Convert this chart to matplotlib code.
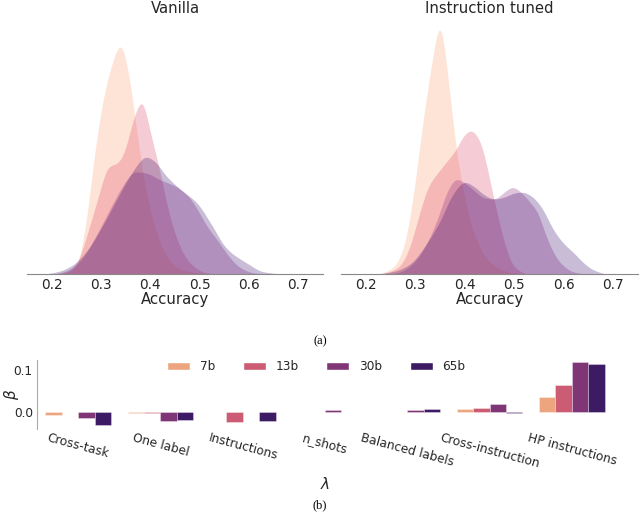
import numpy as np
import matplotlib
matplotlib.use("Agg")
import matplotlib.pyplot as plt
import matplotlib.colors as mcolors
from matplotlib.patches import Patch
import colorsys

# ---------------- data ----------------
sizes = ["7b", "13b", "30b", "65b"]

# density curves (accuracy, density)
van_7b_x = [0.20, 0.23, 0.25, 0.27, 0.285, 0.30, 0.32, 0.34, 0.355, 0.37, 0.39, 0.41, 0.43, 0.46, 0.50, 0.55]
van_7b_y = [0, 0.04, 0.28, 2.08, 4.44, 6.44, 8.16, 9.08, 8.04, 6.0, 3.4, 1.8, 0.8, 0.2, 0.04, 0]
van_13b_x = [0.20, 0.23, 0.25, 0.275, 0.295, 0.315, 0.335, 0.35, 0.365, 0.383, 0.40, 0.42, 0.435, 0.455, 0.48, 0.515, 0.55]
van_13b_y = [0, 0.08, 0.4, 1.76, 3.08, 4.24, 4.4, 4.96, 6.08, 6.84, 5.6, 4.0, 2.64, 1.32, 0.44, 0.04, 0]
van_30b_x = [0.20, 0.23, 0.26, 0.29, 0.32, 0.345, 0.368, 0.39, 0.42, 0.45, 0.475, 0.495, 0.515, 0.535, 0.56, 0.58, 0.61, 0.64]
van_30b_y = [0, 0.12, 0.56, 1.52, 2.64, 3.52, 4.04, 4.0, 3.72, 3.48, 3.12, 2.56, 1.88, 1.36, 0.68, 0.28, 0.04, 0]
van_65b_x = [0.18, 0.21, 0.24, 0.27, 0.30, 0.33, 0.36, 0.38, 0.39, 0.41, 0.43, 0.46, 0.495, 0.52, 0.555, 0.595, 0.63, 0.68]
van_65b_y = [0, 0.08, 0.32, 0.88, 1.8, 2.88, 3.92, 4.48, 4.64, 4.44, 3.92, 3.36, 2.8, 2.08, 1.0, 0.44, 0.08, 0]

ins_7b_x = [0.22, 0.257, 0.277, 0.293, 0.313, 0.333, 0.35, 0.367, 0.38, 0.40, 0.42, 0.45, 0.49, 0.53]
ins_7b_y = [0, 0.28, 1.08, 2.68, 5.64, 8.28, 9.88, 7.64, 5.36, 3.0, 1.52, 0.48, 0.08, 0]
ins_13b_x = [0.22, 0.245, 0.267, 0.287, 0.307, 0.327, 0.347, 0.365, 0.38, 0.40, 0.413, 0.427, 0.44, 0.453, 0.467, 0.48, 0.50, 0.53]
ins_13b_y = [0, 0.08, 0.28, 0.96, 2.28, 3.48, 4.04, 4.48, 4.84, 5.52, 5.68, 5.4, 4.68, 3.48, 2.28, 1.24, 0.28, 0]
ins_30b_x = [0.24, 0.27, 0.29, 0.313, 0.33, 0.347, 0.365, 0.383, 0.40, 0.42, 0.44, 0.46, 0.48, 0.497, 0.515, 0.53, 0.547, 0.567, 0.593, 0.62, 0.65]
ins_30b_y = [0, 0.08, 0.32, 0.84, 1.48, 2.28, 3.28, 3.76, 3.6, 3.28, 3.0, 2.96, 3.24, 3.44, 3.2, 2.88, 2.44, 1.36, 0.44, 0.08, 0]
ins_65b_x = [0.22, 0.26, 0.29, 0.32, 0.35, 0.375, 0.40, 0.42, 0.44, 0.46, 0.48, 0.50, 0.517, 0.535, 0.555, 0.58, 0.60, 0.62, 0.64, 0.66, 0.69]
ins_65b_y = [0, 0.12, 0.4, 1.12, 2.08, 3.12, 3.64, 3.44, 3.12, 2.96, 3.04, 3.2, 3.24, 3.08, 2.64, 1.72, 1.2, 0.84, 0.44, 0.16, 0]

panels = {
    "Vanilla": [(van_7b_x, van_7b_y), (van_13b_x, van_13b_y), (van_30b_x, van_30b_y), (van_65b_x, van_65b_y)],
    "Instruction tuned": [(ins_7b_x, ins_7b_y), (ins_13b_x, ins_13b_y), (ins_30b_x, ins_30b_y), (ins_65b_x, ins_65b_y)],
}
acc_ticks = [0.2, 0.3, 0.4, 0.5, 0.6, 0.7]

categories = ["Cross-task", "One label", "Instructions", "n_shots",
              "Balanced labels", "Cross-instruction", "HP instructions"]
beta_7b = [-0.008, -0.003, 0.0, 0.0, 0.0, 0.007, 0.035]
beta_13b = [0.0, -0.004, -0.026, -0.002, 0.0, 0.009, 0.065]
beta_30b = [-0.015, -0.022, -0.002, 0.004, 0.004, 0.018, 0.118]
beta_65b = [-0.032, -0.020, -0.022, 0.0, 0.005, -0.004, 0.114]
betas = [beta_7b, beta_13b, beta_30b, beta_65b]

# ---------------- helpers ----------------
def pchip(x, y, xs):
    x = np.asarray(x, float); y = np.asarray(y, float)
    h = np.diff(x); d = np.diff(y) / h
    m = np.zeros_like(y)
    for k in range(1, len(x) - 1):
        if d[k - 1] * d[k] > 0:
            w1 = 2 * h[k] + h[k - 1]; w2 = h[k] + 2 * h[k - 1]
            m[k] = (w1 + w2) / (w1 / d[k - 1] + w2 / d[k])
    out = np.zeros_like(xs)
    for i, xv in enumerate(xs):
        if xv <= x[0] or xv >= x[-1]:
            out[i] = 0.0
            continue
        k = np.searchsorted(x, xv) - 1
        t = (xv - x[k]) / h[k]
        h00 = 2 * t**3 - 3 * t**2 + 1; h10 = t**3 - 2 * t**2 + t
        h01 = -2 * t**3 + 3 * t**2; h11 = t**3 - t**2
        out[i] = h00 * y[k] + h10 * h[k] * m[k] + h01 * y[k + 1] + h11 * h[k] * m[k + 1]
    return np.clip(out, 0, None)

def smooth(xs, ys, sigma):
    step = xs[1] - xs[0]
    n = int(4 * sigma / step)
    k = np.exp(-0.5 * (np.arange(-n, n + 1) * step / sigma) ** 2)
    k /= k.sum()
    return np.convolve(ys, k, mode="same")

def desaturate(c, prop):
    r, g, b = mcolors.to_rgb(c)
    hh, l, s = colorsys.rgb_to_hls(r, g, b)
    return colorsys.hls_to_rgb(hh, l, s * prop)

cmap = matplotlib.colormaps["magma"]
base_cols = [cmap(v) for v in (0.8, 0.6, 0.4, 0.2)]
bar_cols = [desaturate(c, 0.75) for c in base_cols]

# ---------------- figure ----------------
fig = plt.figure(figsize=(6.4, 5.16), dpi=100)
W, H = 640.0, 516.0

def axpos(x0, y0, x1, y1):
    return [x0 / W, 1 - y1 / H, (x1 - x0) / W, (y1 - y0) / H]

grid = np.linspace(0.12, 0.78, 661)
for (name, curves), pos in zip(panels.items(), [(27, 21, 323, 274), (341, 21, 638, 274)]):
    ax = fig.add_axes(axpos(*pos))
    for (cx, cy), col in zip(curves, base_cols):
        dens = smooth(grid, pchip(cx, cy, grid), 0.005)
        ax.fill_between(grid, dens, 0, color=col, alpha=0.28, linewidth=0)
    ax.set_xlim(0.15, 0.75)
    ax.set_ylim(0, 10.0)
    ax.set_xticks(acc_ticks)
    ax.set_xticklabels([f"{t:.1f}" for t in acc_ticks])
    ax.set_yticks([])
    for s in ("top", "right", "left"):
        ax.spines[s].set_visible(False)
    ax.spines["bottom"].set_color("#888888")
    ax.tick_params(axis="x", length=0, pad=3, labelsize=9.8, colors="#262626")
    ax.set_xlabel("Accuracy", fontsize=10.7, labelpad=0, color="#262626")
    ax.set_title(name, fontsize=10.7, color="#262626", pad=6)

fig.text(320 / W, 1 - 341 / H, "(a)", ha="center", va="center",
         family="Liberation Serif", fontsize=9)

# bottom bar chart
bx = fig.add_axes(axpos(37, 360, 613, 429))
n = len(sizes)
w = 0.8 / n
xs = np.arange(len(categories))
for j, (vals, col) in enumerate(zip(betas, bar_cols)):
    bx.bar(xs + (j - (n - 1) / 2) * w, vals, width=w, color=col,
           edgecolor=(1, 1, 1, 0.6), linewidth=0.4, label=sizes[j])
bx.set_xlim(-0.5, len(categories) - 0.5)
bx.set_ylim(-0.042, 0.124)
bx.set_yticks([0.0, 0.1])
bx.set_yticklabels(["0.0", "0.1"])
bx.set_xticks(xs)
bx.set_xticklabels(categories, rotation=-15, ha="center", va="top", rotation_mode="default")
for s in ("top", "right", "bottom"):
    bx.spines[s].set_visible(False)
bx.spines["left"].set_color("#aaaaaa")
bx.tick_params(axis="both", length=0, labelsize=8.7, colors="#262626")
bx.tick_params(axis="x", pad=2)
bx.tick_params(axis="y", pad=3)
bx.set_ylabel(r"$\beta$", fontsize=11, color="#262626")
bx.yaxis.set_label_coords(-0.028, 0.5)
bx.set_xlabel(r"$\lambda$", fontsize=11, labelpad=4, color="#262626")
handles = [Patch(facecolor=c, edgecolor="white", label=s) for c, s in zip(bar_cols, sizes)]
leg = bx.legend(handles=handles, ncol=4, loc="center", bbox_to_anchor=(0.485, 0.9),
                frameon=False, fontsize=8.7, handlelength=1.9, handleheight=0.65,
                handletextpad=0.8, columnspacing=2.3)
for t in leg.get_texts():
    t.set_color("#262626")

fig.text(320 / W, 1 - 505 / H, "(b)", ha="center", va="center",
         family="Liberation Serif", fontsize=9)

fig.savefig("out.png", dpi=100)
